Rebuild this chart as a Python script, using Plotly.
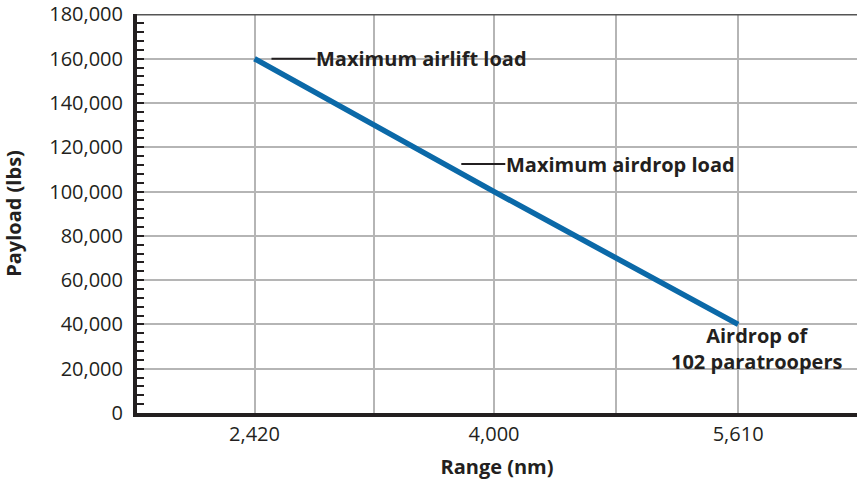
import plotly.graph_objects as go

# Data
range_nm = [2420, 4000, 5610]
payload_lbs = [160000, 100000, 40000]
x_tick_vals = [2420, 4000, 5610]
x_tick_text = ["2,420", "4,000", "5,610"]
x_minor_grid = [3210, 4805]
y_tick_vals = [0, 20000, 40000, 60000, 80000, 100000, 120000, 140000, 160000, 180000]

label_airlift = "Maximum airlift load"
label_airdrop = "Maximum airdrop load"
label_para = "Airdrop of<br>102 paratroopers"

TXT = "#231f20"
FONT = "Open Sans"
FS = 20

fig = go.Figure()
fig.add_trace(go.Scatter(
    x=range_nm, y=payload_lbs, mode="lines",
    line=dict(color="#0b69a8", width=5.5),
    hoverinfo="skip", showlegend=False,
))

fig.update_layout(
    width=857, height=485,
    margin=dict(l=137, r=0, t=14, b=72),
    paper_bgcolor="white", plot_bgcolor="white",
    font=dict(family=FONT, size=FS, color=TXT),
    showlegend=False,
    xaxis=dict(
        range=[1645, 6394], automargin=False,
        tickmode="array", tickvals=x_tick_vals, ticktext=x_tick_text,
        showgrid=True, gridcolor="#b5b5b5", gridwidth=1.5,
        minor=dict(tickmode="array", tickvals=x_minor_grid, showgrid=True,
                   gridcolor="#b5b5b5", gridwidth=1.5, ticks=""),
        ticks="", showline=True, linecolor=TXT, linewidth=4,
        zeroline=False,
        title=dict(text="<b>Range (nm)</b>", font=dict(size=FS)),
        tickfont=dict(size=FS),
    ),
    yaxis=dict(
        range=[0, 180200], automargin=False,
        tickmode="array", tickvals=y_tick_vals, tickformat=",d",
        showgrid=True, gridcolor="#b5b5b5", gridwidth=1.5,
        ticks="inside", ticklen=7, tickwidth=2, tickcolor=TXT,
        ticklabelstandoff=6, ticklabeloverflow="allow",
        minor=dict(tickmode="linear", dtick=4000, tick0=0, ticks="inside", ticklen=7,
                   tickwidth=2, tickcolor=TXT, showgrid=False),
        showline=True, linecolor=TXT, linewidth=4,
        zeroline=False,
        title=dict(text="<b>Payload (lbs)</b>", font=dict(size=FS), standoff=26),
        tickfont=dict(size=FS),
    ),
    shapes=[dict(type="line", xref="paper", yref="y", x0=0, x1=1,
                 y0=180000, y1=180000, line=dict(color="#555555", width=2))],
)

fig.add_annotation(x=2532, y=160000, ax=44, ay=0, axref="pixel", ayref="pixel",
                   text=f"<b>{label_airlift}</b>", showarrow=True, arrowhead=0,
                   arrowwidth=2, arrowcolor=TXT, xanchor="left", yanchor="middle",
                   borderpad=0, font=dict(size=FS, color=TXT))
fig.add_annotation(x=3784, y=112400, ax=44, ay=0, axref="pixel", ayref="pixel",
                   text=f"<b>{label_airdrop}</b>", showarrow=True, arrowhead=0,
                   arrowwidth=2, arrowcolor=TXT, xanchor="left", yanchor="middle",
                   borderpad=0, font=dict(size=FS, color=TXT))
fig.add_annotation(x=5728, y=29000, text=f"<b>{label_para}</b>", showarrow=False,
                   xanchor="center", yanchor="middle", align="center",
                   font=dict(size=FS, color=TXT))

fig.write_html("out.html", config={"displayModeBar": False},
               post_script="document.body.style.margin='0';")
